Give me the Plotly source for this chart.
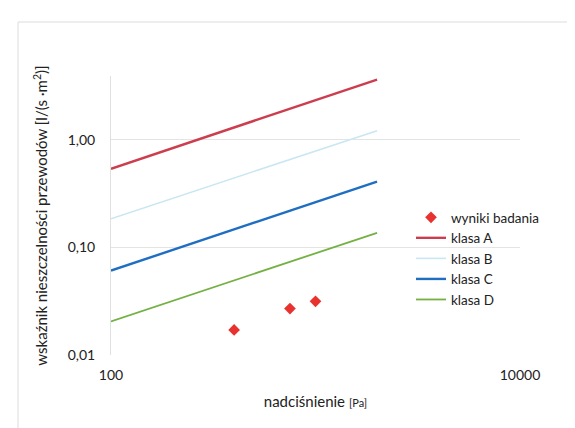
import plotly.graph_objects as go

# ---- data ----
pressure_line = [100, 2000]
klasa_A = [0.54, 3.65]
klasa_B = [0.185, 1.22]
klasa_C = [0.061, 0.41]
klasa_D = [0.0205, 0.137]

test_pressure = [400, 750, 1000]
test_values = [0.0171, 0.027, 0.0316]

y_tickvals = [0.01, 0.1, 1]
y_ticktext = ["0,01", "0,10", "1,00"]
x_tickvals = [100, 10000]
x_ticktext = ["100", "10000"]

FONT = "Lato, 'Open Sans', sans-serif"
W, H = 575, 428
L, R, T, B = 103, 63, 68, 81
pw, ph = W - L - R, H - T - B

fig = go.Figure()
fig.add_trace(go.Scatter(x=test_pressure, y=test_values, mode="markers", name="wyniki badania",
                         marker=dict(symbol="diamond", size=9, color="#e8322f")))
for name, vals, col, w in [("klasa A", klasa_A, "#cc3d4e", 2.4),
                           ("klasa B", klasa_B, "#c9e7f3", 1.6),
                           ("klasa C", klasa_C, "#1f6ec2", 2.4),
                           ("klasa D", klasa_D, "#74b043", 1.8)]:
    fig.add_trace(go.Scatter(x=pressure_line, y=vals, mode="lines", name=name,
                             line=dict(color=col, width=w)))

def px_x(p):
    return (p - L) / pw

def px_y(p):
    return (H - B - p) / ph

fig.add_shape(type="rect", xref="paper", yref="paper",
              x0=px_x(10), x1=px_x(700), y0=px_y(600), y1=px_y(14),
              line=dict(color="#dcdcdc", width=1), fillcolor="rgba(0,0,0,0)", layer="below")

fig.update_layout(
    width=W, height=H,
    margin=dict(l=L, r=R, t=T, b=B, autoexpand=False),
    paper_bgcolor="white", plot_bgcolor="white",
    font=dict(family=FONT, size=14, color="#222222"),
    showlegend=True,
    legend=dict(x=px_x(403), y=px_y(194), xanchor="left", yanchor="top",
                font=dict(size=13.5, color="#222222"), bgcolor="rgba(0,0,0,0)",
                itemwidth=30, tracegroupgap=0),
    xaxis=dict(type="log", range=[2, 4], tickvals=x_tickvals, ticktext=x_ticktext,
               showgrid=False, zeroline=False, showline=False, ticks="",
               ticklabelstandoff=10,
               title=dict(text="nadciśnienie <span style='font-size:11px'>[Pa]</span>",
                          font=dict(size=15), standoff=14)),
    yaxis=dict(type="log", range=[-2, 0.595], tickvals=y_tickvals, ticktext=y_ticktext,
               showgrid=True, gridcolor="#e4e4e4", gridwidth=1, zeroline=False,
               showline=True, linecolor="#e0e0e0", linewidth=1, ticks="",
               ticklabelstandoff=12,
               title=dict(text="wskaźnik nieszczelności przewodów [l/(s ·m<sup>2</sup>)]",
                          font=dict(size=15), standoff=16)),
)

fig.write_html("out.html")
